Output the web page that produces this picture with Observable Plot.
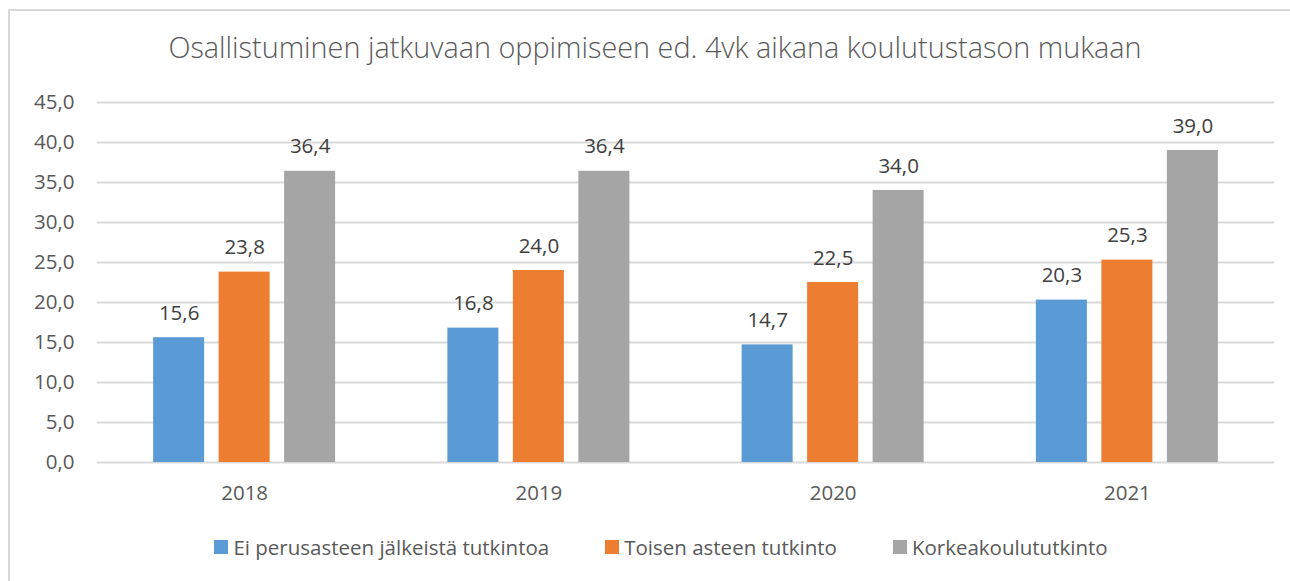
<!DOCTYPE html>
<html>
<head>
<meta charset="utf-8">
<script src="https://cdn.jsdelivr.net/npm/d3@7"></script>
<script src="https://cdn.jsdelivr.net/npm/@observablehq/plot@0.6"></script>
<style>
  html, body { margin: 0; padding: 0; background: #fff; }
  #wrap { position: relative; width: 1290px; height: 581px; overflow: hidden; font-family: "Open Sans", sans-serif; }
  #border { position: absolute; left: 8px; top: 9px; width: 1400px; height: 700px; border: 2px solid #d9d9d9; box-sizing: border-box; }
  #title { position: absolute; left: 9px; width: 1292px; top: 26px; text-align: center; font-size: 28.8px; font-weight: 300; color: #595959; line-height: 42px; white-space: nowrap; }
  #chart { position: absolute; left: 0; top: 0; }
  #legend { position: absolute; left: 9px; width: 1304px; top: 533px; display: flex; justify-content: center; gap: 56px; font-size: 20.5px; color: #595959; line-height: 28px; }
  .item { display: flex; align-items: center; gap: 5px; }
  .sw { width: 14px; height: 14px; display: inline-block; }
</style>
</head>
<body>
<div id="wrap">
  <div id="border"></div>
  <div id="chart"></div>
  <div id="title">Osallistuminen jatkuvaan oppimiseen ed. 4vk aikana koulutustason mukaan</div>
  <div id="legend"></div>
</div>
<script>
const years = ["2018", "2019", "2020", "2021"];
const series = ["Ei perusasteen jälkeistä tutkintoa", "Toisen asteen tutkinto", "Korkeakoulututkinto"];
const colors = ["#5b9bd5", "#ed7d31", "#a5a5a5"];
const eiPerusaste = [15.6, 16.8, 14.7, 20.3];
const toinenAste = [23.8, 24.0, 22.5, 25.3];
const korkeakoulu = [36.4, 36.4, 34.0, 39.0];
const yTicks = [0, 5, 10, 15, 20, 25, 30, 35, 40, 45];

const seriesValues = [eiPerusaste, toinenAste, korkeakoulu];
const data = [];
years.forEach((yr, i) => {
  series.forEach((s, j) => {
    data.push({ year: yr, series: s, value: seriesValues[j][i] });
  });
});

const fmt = d => d.toFixed(1).replace(".", ",");

const chart = Plot.plot({
  width: 1290,
  height: 581,
  marginLeft: 97,
  marginRight: 16,
  marginTop: 102,
  marginBottom: 119,
  style: { fontFamily: "Open Sans, sans-serif", fontSize: "20.5px", color: "#595959", background: "transparent" },
  fx: { domain: years, paddingInner: 0, paddingOuter: 0, round: false, label: null, axis: "bottom", tickSize: 0, tickPadding: 23 },
  x: { domain: series, paddingInner: 0.2214, paddingOuter: 0.857, round: false, axis: null },
  y: { domain: [0, 45], ticks: yTicks, tickFormat: fmt, tickSize: 0, tickPadding: 23, label: null },
  color: { domain: series, range: colors },
  marks: [
    Plot.ruleY(yTicks, { stroke: "#d9d9d9", strokeWidth: 2 }),
    Plot.barY(data, { fx: "year", x: "series", y: "value", fill: "series" }),
    Plot.text(data, { fx: "year", x: "series", y: "value", text: d => fmt(d.value), lineAnchor: "bottom", dy: -18, fill: "#404040", fontSize: 20.5 })
  ]
});
document.getElementById("chart").appendChild(chart);

const legend = document.getElementById("legend");
series.forEach((s, j) => {
  const it = document.createElement("div");
  it.className = "item";
  const sw = document.createElement("span");
  sw.className = "sw";
  sw.style.background = colors[j];
  const tx = document.createElement("span");
  tx.textContent = s;
  it.appendChild(sw);
  it.appendChild(tx);
  legend.appendChild(it);
});
</script>
</body>
</html>
